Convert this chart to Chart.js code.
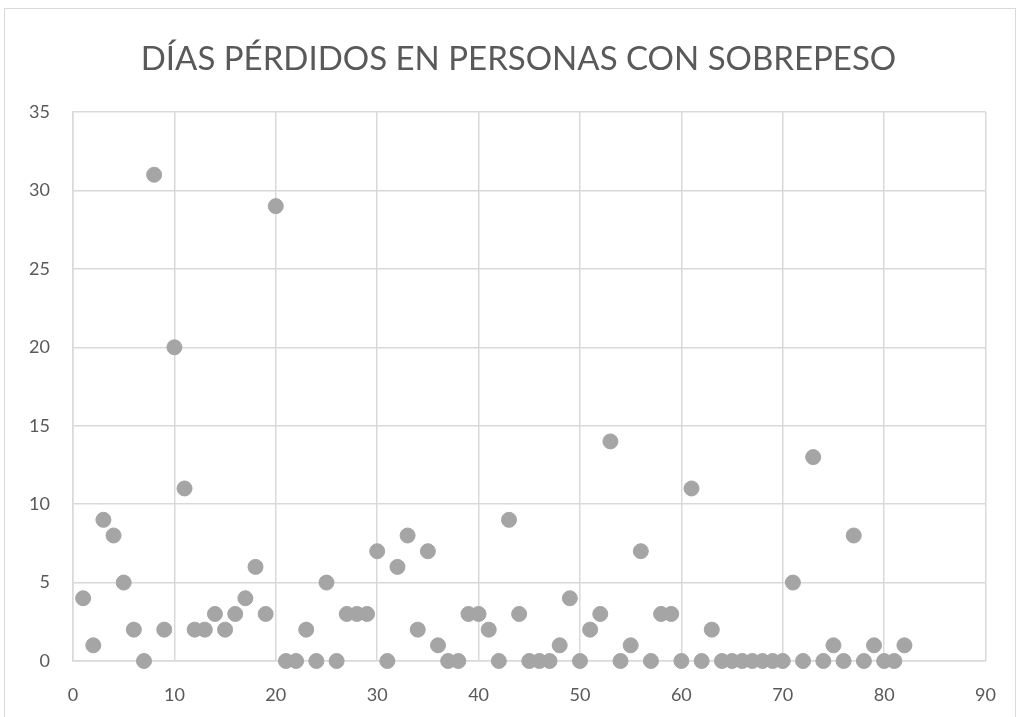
<!DOCTYPE html>
<html>
<head>
<meta charset="utf-8">
<script src="https://cdn.jsdelivr.net/npm/chart.js@4"></script>
<style>
  html, body { margin: 0; padding: 0; background: #fff; overflow: hidden; }
  canvas { display: block; }
</style>
</head>
<body>
<canvas id="chart" width="1019" height="717"></canvas>
<script>
// persona nr (x) og dage tabt (y)
const persons = [1,2,3,4,5,6,7,8,9,10,11,12,13,14,15,16,17,18,19,20,21,22,23,24,25,26,27,28,29,30,31,32,33,34,35,36,37,38,39,40,41,42,43,44,45,46,47,48,49,50,51,52,53,54,55,56,57,58,59,60,61,62,63,64,65,66,67,68,69,70,71,72,73,74,75,76,77,78,79,80,81,82]
const diasPerdidos = [4,1,9,8,5,2,0,31,2,20,11,2,2,3,2,3,4,6,3,29,0,0,2,0,5,0,3,3,3,7,0,6,8,2,7,1,0,0,3,3,2,0,9,3,0,0,0,1,4,0,2,3,14,0,1,7,0,3,3,0,11,0,2,0,0,0,0,0,0,0,5,0,13,0,1,0,8,0,1,0,0,1]
const xTicks = [0,10,20,30,40,50,60,70,80,90]
const yTicks = [0,5,10,15,20,25,30,35]

const points = persons.map((p, i) => ({ x: p, y: diasPerdidos[i] }))

// ramme rundt om hele diagrammet + titlen flyttes lidt mod højre
const frame = {
  id: 'frame',
  afterLayout(chart) {
    const t = chart.titleBlock
    if (t) { t.left += 20; t.right += 20 }
  },
  beforeDraw(chart) {
    const ctx = chart.ctx
    ctx.save()
    ctx.fillStyle = '#fff'
    ctx.fillRect(0, 0, chart.width, chart.height)
    ctx.strokeStyle = '#d9d9d9'
    ctx.lineWidth = 1
    ctx.strokeRect(4.5, 8.5, chart.width - 8, chart.height + 10)
    ctx.restore()
  }
}

new Chart(document.getElementById('chart'), {
  type: 'scatter',
  data: {
    datasets: [{
      data: points,
      backgroundColor: '#a5a5a5',
      borderColor: '#a5a5a5',
      pointRadius: 7.5,
      pointHoverRadius: 7.5,
      clip: false
    }]
  },
  options: {
    responsive: false,
    animation: false,
    devicePixelRatio: 1,
    layout: { padding: { left: 10, right: 32, top: 0, bottom: 0 } },
    plugins: {
      legend: { display: false },
      tooltip: { enabled: false },
      title: {
        display: true,
        text: 'DÍAS PÉRDIDOS EN PERSONAS CON SOBREPESO',
        color: '#595959',
        font: { family: 'Lato', size: 33, weight: 'normal' },
        padding: { top: 40, bottom: 32.4 }
      }
    },
    scales: {
      x: {
        type: 'linear',
        min: 0, max: 90,
        afterBuildTicks: axis => { axis.ticks = xTicks.map(v => ({ value: v })) },
        afterFit: axis => { axis.height = 56 },
        grid: { color: '#d9d9d9', lineWidth: 1.5, drawTicks: false },
        border: { color: '#d9d9d9', width: 1.5 },
        ticks: { color: '#595959', font: { family: 'Lato', size: 18 }, padding: 23, maxRotation: 0 }
      },
      y: {
        min: 0, max: 35,
        afterBuildTicks: axis => { axis.ticks = yTicks.map(v => ({ value: v })) },
        afterFit: axis => { axis.width = 63 },
        grid: { color: '#d9d9d9', lineWidth: 1.5, drawTicks: false },
        border: { color: '#d9d9d9', width: 1.5 },
        ticks: { color: '#595959', font: { family: 'Lato', size: 18 }, padding: 23 }
      }
    }
  },
  plugins: [frame]
})
</script>
</body>
</html>
